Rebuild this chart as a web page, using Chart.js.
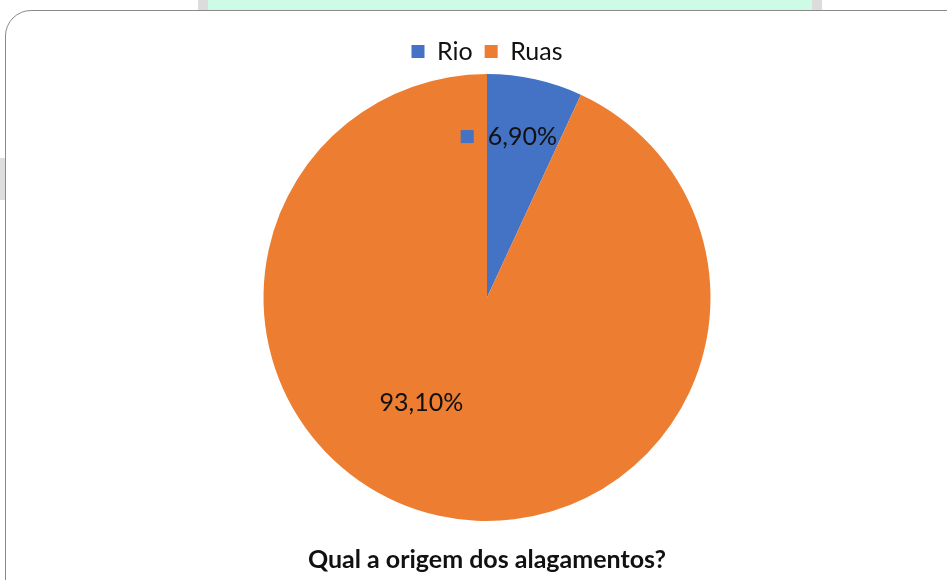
<!DOCTYPE html>
<html>
<head>
<meta charset="utf-8">
<script src="https://cdn.jsdelivr.net/npm/chart.js@4"></script>
<style>
  html, body { margin: 0; padding: 0; background: #ffffff; }
  #page { position: relative; width: 947px; height: 580px; overflow: hidden; background: #ffffff; }
  #strip { position: absolute; left: 198px; top: 0; width: 624px; height: 14px; background: #dcdcdc; }
  #stripInner { position: absolute; left: 10px; top: 0; width: 604px; height: 14px; background: #cefbe6; }
  #sideGrey { position: absolute; left: 0; top: 158px; width: 8px; height: 42px; background: #dedede; }
  #frame { position: absolute; left: 5px; top: 10px; width: 980px; height: 620px;
           border: 1.5px solid #8a8a8a; border-radius: 26px; background: #ffffff; box-sizing: border-box; }
  #wrap { position: absolute; left: 0; top: 0; width: 947px; height: 580px; }
</style>
</head>
<body>
<div id="page">
  <div id="strip"><div id="stripInner"></div></div>
  <div id="sideGrey"></div>
  <div id="frame"></div>
  <div id="wrap"><canvas id="chart" width="947" height="580"></canvas></div>
</div>
<script>
// Survey answers: where the flooding comes from
const categories = ['Rio', 'Ruas'];
const shares = [6.9, 93.1];
const colors = ['#4472C4', '#ED7D31'];
const chartTitle = 'Qual a origem dos alagamentos?';

const fontFamily = 'Lato, "Open Sans", sans-serif';
const fmt = v => v.toFixed(2).replace('.', ',') + '%';

// Percentage labels placed inside each slice (polar offset from the pie centre)
const labelPlacement = [
  { angleShift: 0, radial: 0.735, withKey: true },
  { angleShift: 0.34, radial: 0.555, withKey: false }
];

const sliceLabels = {
  id: 'sliceLabels',
  afterDatasetsDraw(chart) {
    const ctx = chart.ctx;
    const meta = chart.getDatasetMeta(0);
    ctx.save();
    ctx.font = '25px ' + fontFamily;
    ctx.textBaseline = 'middle';
    meta.data.forEach((arc, i) => {
      const p = labelPlacement[i];
      const mid = (arc.startAngle + arc.endAngle) / 2 + p.angleShift;
      const r = arc.outerRadius * p.radial;
      const x = arc.x + Math.cos(mid) * r;
      const y = arc.y + Math.sin(mid) * r;
      const text = fmt(shares[i]);
      const tw = ctx.measureText(text).width;
      ctx.fillStyle = '#111111';
      ctx.textAlign = 'center';
      ctx.fillText(text, x, y);
      if (p.withKey) {
        ctx.fillStyle = colors[i];
        ctx.fillRect(x - tw / 2 - 27, y - 7, 13, 13);
      }
    });
    ctx.restore();
  }
};

new Chart(document.getElementById('chart'), {
  type: 'pie',
  data: {
    labels: categories,
    datasets: [{
      data: shares,
      backgroundColor: colors,
      borderWidth: 0,
      hoverOffset: 0
    }]
  },
  options: {
    responsive: false,
    animation: false,
    rotation: 0,
    layout: { padding: { top: 27, bottom: 2, left: 40, right: 13 } },
    plugins: {
      legend: {
        position: 'top',
        labels: {
          boxWidth: 13, boxHeight: 13, padding: 12,
          color: '#111111',
          font: { family: fontFamily, size: 25 }
        }
      },
      title: {
        display: true,
        position: 'bottom',
        text: chartTitle,
        color: '#111111',
        font: { family: fontFamily, size: 25, weight: 'bold' },
        padding: { top: 24, bottom: 3 }
      },
      tooltip: { enabled: false }
    }
  },
  plugins: [sliceLabels]
});
</script>
</body>
</html>
